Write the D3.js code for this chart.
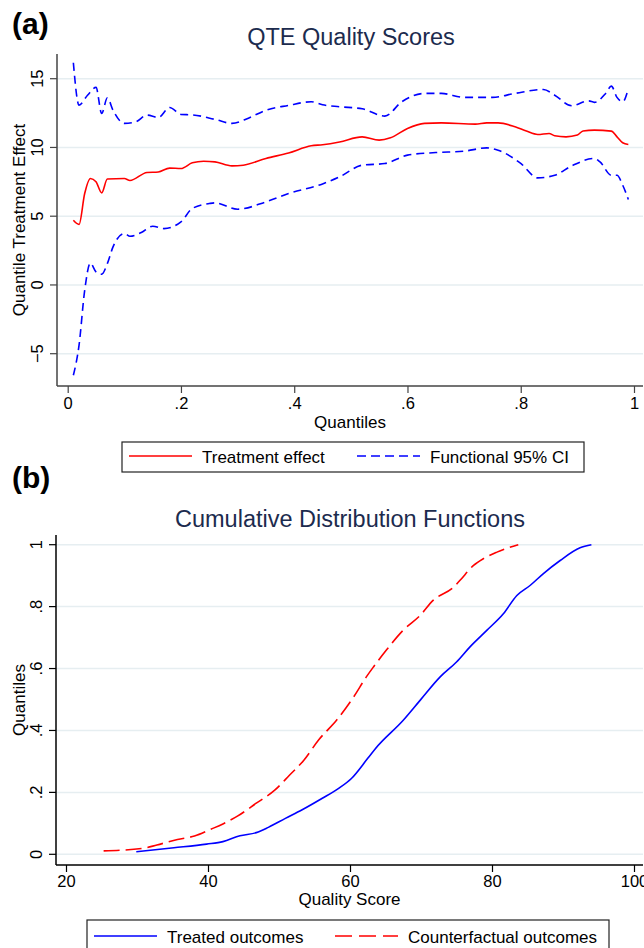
<!DOCTYPE html>
<html>
<head>
<meta charset="utf-8">
<script src="https://cdn.jsdelivr.net/npm/d3@7"></script>
<style>
  body { margin: 0; background: #fff; }
  svg { display: block; font-family: "Liberation Sans", Arial, sans-serif; }
</style>
</head>
<body>
<svg id="chart" width="644" height="948"></svg>
<script>
// ---- panel (a): quantile treatment effects ----
const effectQ = [0.01, 0.02, 0.03, 0.04, 0.05, 0.06, 0.07, 0.10, 0.11, 0.14, 0.16, 0.18, 0.20, 0.22, 0.24,
  0.26, 0.29, 0.31, 0.35, 0.39, 0.43, 0.45, 0.48, 0.52, 0.55, 0.57, 0.60, 0.63, 0.66, 0.72, 0.74, 0.76,
  0.79, 0.81, 0.83, 0.85, 0.86, 0.88, 0.90, 0.91, 0.93, 0.96, 0.97, 0.98, 0.99];
const effectVals = [4.7, 4.4, 6.65, 7.74, 7.5, 6.7, 7.7, 7.74, 7.6, 8.18, 8.22, 8.5, 8.47, 8.88, 9.0,
  8.95, 8.66, 8.71, 9.2, 9.6, 10.12, 10.2, 10.4, 10.77, 10.53, 10.7, 11.38, 11.75, 11.79, 11.7, 11.79, 11.79,
  11.5, 11.19, 10.94, 11.02, 10.85, 10.77, 10.9, 11.2, 11.26, 11.19, 10.77, 10.34, 10.22];

const upperQ = [0.01, 0.02, 0.035, 0.05, 0.06, 0.07, 0.08, 0.10, 0.12, 0.14, 0.16, 0.18, 0.20, 0.22, 0.26,
  0.29, 0.32, 0.35, 0.39, 0.43, 0.45, 0.48, 0.52, 0.56, 0.59, 0.63, 0.66, 0.70, 0.75, 0.79, 0.84, 0.86,
  0.89, 0.92, 0.93, 0.95, 0.96, 0.97, 0.98, 0.99];
const upperVals = [16.16, 13.08, 13.8, 14.37, 12.47, 13.61, 12.71, 11.75, 11.86, 12.35, 12.18, 12.91, 12.4, 12.37, 12.04,
  11.75, 12.15, 12.71, 13.06, 13.32, 13.1, 12.96, 12.81, 12.28, 13.32, 13.93, 13.93, 13.64, 13.64, 13.93, 14.22, 13.8,
  13.03, 13.39, 13.28, 13.93, 14.46, 13.64, 13.32, 14.29];

const lowerQ = [0.01, 0.02, 0.03, 0.04, 0.05, 0.06, 0.07, 0.08, 0.10, 0.11, 0.13, 0.15, 0.17, 0.20, 0.22,
  0.25, 0.26, 0.30, 0.35, 0.39, 0.45, 0.48, 0.52, 0.56, 0.60, 0.65, 0.70, 0.74, 0.76, 0.80, 0.83, 0.86,
  0.89, 0.93, 0.94, 0.96, 0.97, 0.98, 0.99];
const lowerVals = [-6.57, -4.39, -0.39, 1.6, 0.95, 0.78, 1.55, 2.77, 3.74, 3.54, 3.81, 4.27, 4.1, 4.59, 5.56,
  5.92, 5.97, 5.51, 6.04, 6.65, 7.35, 7.86, 8.71, 8.83, 9.44, 9.63, 9.73, 9.97, 9.8, 8.84, 7.79, 7.98,
  8.66, 9.2, 8.95, 7.98, 7.98, 7.26, 6.22];

const qteTicksX = [0, 0.2, 0.4, 0.6, 0.8, 1];
const qteTicksY = [-5, 0, 5, 10, 15];

// ---- panel (b): cumulative distribution functions ----
const treatedScore = [29.9, 35.2, 39.8, 42.1, 44.5, 46.8, 48.5, 50.9, 53.2, 56.1, 58.4, 60.2, 62.5, 63.6,
  67.5, 69.9, 72.7, 75.0, 76.9, 79.3, 81.6, 83.5, 85.4, 87.2, 89.6, 92.4, 94.0];
const treatedCdf = [0.008, 0.021, 0.033, 0.041, 0.06, 0.07, 0.087, 0.116, 0.143, 0.181, 0.213, 0.245, 0.31, 0.342,
  0.433, 0.498, 0.573, 0.621, 0.67, 0.724, 0.777, 0.836, 0.869, 0.906, 0.949, 0.99, 1.0];

const counterScore = [25.3, 30.8, 32.8, 35.7, 38.1, 40.4, 42.1, 44.2, 46.8, 49.4, 51.5, 53.5, 55.6, 58.1,
  60.5, 62.3, 63.3, 65.1, 67.5, 69.9, 71.7, 74.6, 75.5, 77.4, 78.8, 80.7, 83.7];
const counterCdf = [0.011, 0.019, 0.03, 0.048, 0.059, 0.081, 0.098, 0.124, 0.165, 0.207, 0.256, 0.304, 0.37, 0.433,
  0.508, 0.573, 0.605, 0.659, 0.724, 0.772, 0.82, 0.863, 0.885, 0.933, 0.955, 0.976, 1.0];

const cdfTicksX = [20, 40, 60, 80, 100];
const cdfTicksY = [0, 0.2, 0.4, 0.6, 0.8, 1];

// Stata style labels: no leading zero (".2")
const stataFmt = v => d3.format('~g')(v).replace(/^0\./, '.').replace(/^-0\./, '-.');

const svg = d3.select('svg#chart');
const titleColor = '#1c2b4e';
const gridColor = '#e6eef1';

// draws one Stata-like panel: frame, grid, ticks, labels
function drawPanel(cfg) {
  const g = svg.append('g');
  const { x, y, left, right, top, bottom } = cfg;

  // horizontal gridlines
  g.append('g')
    .selectAll('line')
    .data(cfg.yTicks)
    .enter()
    .append('line')
    .attr('x1', left)
    .attr('x2', right)
    .attr('y1', d => y(d))
    .attr('y2', d => y(d))
    .attr('stroke', gridColor)
    .attr('stroke-width', 1.5);

  // axes via d3, domain path replaced by own frame lines
  const xAxis = g.append('g')
    .attr('transform', `translate(0,${bottom})`)
    .call(d3.axisBottom(x).tickValues(cfg.xTicks).tickSize(7).tickFormat(stataFmt));
  xAxis.select('.domain').remove();
  xAxis.selectAll('line').attr('stroke', cfg.axisColor).attr('stroke-width', 1.2);
  xAxis.selectAll('text')
    .attr('y', cfg.xLabelOffset)
    .attr('dy', 0)
    .attr('fill', '#000')
    .style('font-size', '16.5px')
    .style('font-family', '"Liberation Sans", Arial, sans-serif');

  const yAxis = g.append('g')
    .attr('transform', `translate(${left},0)`)
    .call(d3.axisLeft(y).tickValues(cfg.yTicks).tickSize(7).tickFormat(stataFmt));
  yAxis.select('.domain').remove();
  yAxis.selectAll('line').attr('stroke', cfg.axisColor).attr('stroke-width', 1.2);
  // vertical (rotated) tick labels, as Stata draws them
  yAxis.selectAll('.tick').attr('transform', null);
  yAxis.selectAll('.tick line')
    .attr('y1', d => y(d))
    .attr('y2', d => y(d));
  yAxis.selectAll('text')
    .attr('x', null)
    .attr('dy', null)
    .attr('y', 0)
    .attr('text-anchor', 'middle')
    .attr('transform', d => `translate(-14,${y(d)}) rotate(-90)`)
    .attr('fill', '#000')
    .style('font-size', '16.5px')
    .style('font-family', '"Liberation Sans", Arial, sans-serif');

  g.append('line')
    .attr('x1', left).attr('x2', right)
    .attr('y1', bottom).attr('y2', bottom)
    .attr('stroke', cfg.axisColor).attr('stroke-width', 1.5);
  g.append('line')
    .attr('x1', left).attr('x2', left)
    .attr('y1', top).attr('y2', bottom)
    .attr('stroke', cfg.axisColor).attr('stroke-width', 1.5);

  // titles
  g.append('text')
    .attr('x', cfg.titleX)
    .attr('y', cfg.titleY)
    .attr('text-anchor', 'middle')
    .attr('fill', titleColor)
    .style('font-size', '23.5px')
    .text(cfg.title);
  g.append('text')
    .attr('x', (left + right) / 2)
    .attr('y', bottom + cfg.xTitleOffset)
    .attr('text-anchor', 'middle')
    .style('font-size', '17px')
    .text(cfg.xTitle);
  g.append('text')
    .attr('transform', `translate(25,${(top + bottom) / 2}) rotate(-90)`)
    .attr('text-anchor', 'middle')
    .style('font-size', '17px')
    .text(cfg.yTitle);
  g.append('text')
    .attr('x', 12)
    .attr('y', cfg.tagY)
    .style('font-size', '30px')
    .style('font-weight', 'bold')
    .text(cfg.tag);
  return g;
}

function drawLegend(box, items) {
  const g = svg.append('g');
  g.append('rect')
    .attr('x', box.x).attr('y', box.y)
    .attr('width', box.w).attr('height', box.h)
    .attr('fill', '#fff')
    .attr('stroke', '#222')
    .attr('stroke-width', 1.2);
  items.forEach(it => {
    g.append('line')
      .attr('x1', it.x).attr('x2', it.x + 63)
      .attr('y1', box.y + box.h / 2 - 1).attr('y2', box.y + box.h / 2 - 1)
      .attr('stroke', it.color)
      .attr('stroke-width', 1.5)
      .attr('stroke-dasharray', it.dash || null);
    g.append('text')
      .attr('x', it.x + 73)
      .attr('y', box.y + box.h / 2 + 6)
      .style('font-size', '17px')
      .text(it.label);
  });
}

// ---- panel (a) ----
const xA = d3.scaleLinear().domain([0, 1]).range([67.7, 634]);
const yA = d3.scaleLinear().domain([-5, 15]).range([353.7, 78.7]);
const pa = drawPanel({
  x: xA, y: yA, left: 57, right: 643, top: 54, bottom: 386,
  xTicks: qteTicksX, yTicks: qteTicksY, axisColor: '#444',
  xLabelOffset: 23, xTitleOffset: 42,
  title: 'QTE Quality Scores', titleX: 351, titleY: 45,
  xTitle: 'Quantiles', yTitle: 'Quantile Treatment Effect',
  tag: '(a)', tagY: 34
});

const lineA = d3.line().x(d => xA(d[0])).y(d => yA(d[1])).curve(d3.curveMonotoneX);
pa.append('path')
  .datum(d3.zip(upperQ, upperVals))
  .attr('fill', 'none').attr('stroke', '#0000ff').attr('stroke-width', 1.6)
  .attr('stroke-dasharray', '8,5')
  .attr('d', lineA);
pa.append('path')
  .datum(d3.zip(lowerQ, lowerVals))
  .attr('fill', 'none').attr('stroke', '#0000ff').attr('stroke-width', 1.6)
  .attr('stroke-dasharray', '8,5')
  .attr('d', lineA);
pa.append('path')
  .datum(d3.zip(effectQ, effectVals))
  .attr('fill', 'none').attr('stroke', '#ff0000').attr('stroke-width', 1.6)
  .attr('d', lineA);

drawLegend({ x: 122, y: 442, w: 462, h: 30 }, [
  { x: 129, color: '#ff0000', label: 'Treatment effect' },
  { x: 357, color: '#0000ff', dash: '9,5', label: 'Functional 95% CI' }
]);

// ---- panel (b) ----
const xB = d3.scaleLinear().domain([20, 100]).range([66, 634]);
const yB = d3.scaleLinear().domain([0, 1]).range([854.3, 544.7]);
const pb = drawPanel({
  x: xB, y: yB, left: 56, right: 643, top: 535, bottom: 865,
  xTicks: cdfTicksX, yTicks: cdfTicksY, axisColor: '#000',
  xLabelOffset: 22, xTitleOffset: 40,
  title: 'Cumulative Distribution Functions', titleX: 350, titleY: 527,
  xTitle: 'Quality Score', yTitle: 'Quantiles',
  tag: '(b)', tagY: 488
});

const lineB = d3.line().x(d => xB(d[0])).y(d => yB(d[1])).curve(d3.curveMonotoneX);
pb.append('path')
  .datum(d3.zip(counterScore, counterCdf))
  .attr('fill', 'none').attr('stroke', '#ff0000').attr('stroke-width', 1.6)
  .attr('stroke-dasharray', '16,6')
  .attr('d', lineB);
pb.append('path')
  .datum(d3.zip(treatedScore, treatedCdf))
  .attr('fill', 'none').attr('stroke', '#0000ff').attr('stroke-width', 1.6)
  .attr('d', lineB);

drawLegend({ x: 87, y: 920, w: 522, h: 34 }, [
  { x: 94, color: '#0000ff', label: 'Treated outcomes' },
  { x: 335, color: '#ff0000', dash: '17,7', label: 'Counterfactual outcomes' }
]);
</script>
</body>
</html>
